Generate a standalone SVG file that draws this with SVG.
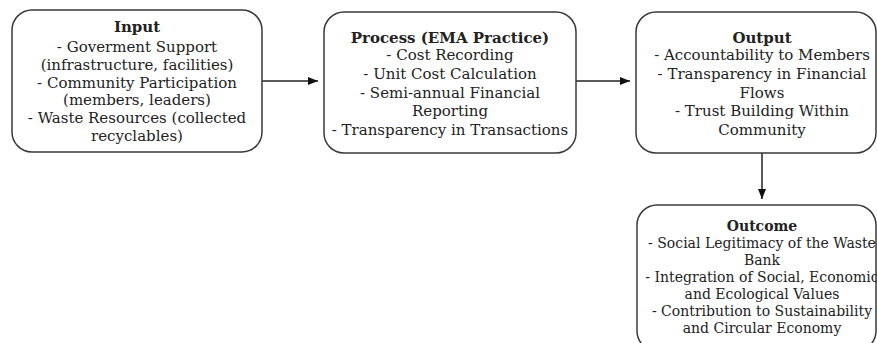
<svg xmlns="http://www.w3.org/2000/svg" width="877" height="343" viewBox="0 0 877 343">
<defs>
<style>
.box{fill:#fff;stroke:#3a3a3a;stroke-width:1.5}
.t{font-family:"DejaVu Serif","Liberation Serif",serif;font-size:15px;fill:#222;text-anchor:middle}
.s{font-size:14px}
.b{font-weight:bold}
.c{stroke:#222;stroke-width:1.5;fill:none}
</style>
<marker id="ah" markerWidth="10" markerHeight="8" refX="10" refY="4" orient="auto" markerUnits="userSpaceOnUse">
<path d="M0,0 L10,4 L0,8 Z" fill="#111"/>
</marker>
</defs>
<rect width="877" height="343" fill="#fff"/>
<g id="connectors">
<line class="c" x1="262" y1="81" x2="318" y2="81" marker-end="url(#ah)"/>
<line class="c" x1="576" y1="81" x2="630" y2="81" marker-end="url(#ah)"/>
<line class="c" x1="762" y1="153" x2="762" y2="199" marker-end="url(#ah)"/>
</g>
<g id="input">
<rect class="box" x="12" y="10" width="250" height="142" rx="20"/>
<text class="t"><tspan class="b" x="137" y="32">Input</tspan><tspan x="137" y="52">- Goverment Support</tspan><tspan x="137" y="70">(infrastructure, facilities)</tspan><tspan x="137" y="88">- Community Participation</tspan><tspan x="137" y="105">(members, leaders)</tspan><tspan x="137" y="123">- Waste Resources (collected</tspan><tspan x="137" y="141">recyclables)</tspan></text>
</g>
<g id="process">
<rect class="box" x="324" y="12" width="252" height="141" rx="20"/>
<text class="t"><tspan class="b" x="450" y="43">Process (EMA Practice)</tspan><tspan x="450" y="60">- Cost Recording</tspan><tspan x="450" y="79">- Unit Cost Calculation</tspan><tspan x="450" y="98">- Semi-annual Financial</tspan><tspan x="450" y="116">Reporting</tspan><tspan x="450" y="135">- Transparency in Transactions</tspan></text>
</g>
<g id="output">
<rect class="box" x="636" y="12" width="240" height="141" rx="20"/>
<text class="t"><tspan class="b" x="762" y="43">Output</tspan><tspan x="762" y="60">- Accountability to Members</tspan><tspan x="762" y="79">- Transparency in Financial</tspan><tspan x="762" y="98">Flows</tspan><tspan x="762" y="116">- Trust Building Within</tspan><tspan x="762" y="135">Community</tspan></text>
</g>
<g id="outcome">
<rect class="box" x="637" y="205" width="239" height="146" rx="20"/>
<text class="t s"><tspan class="b" x="762" y="231">Outcome</tspan><tspan x="762" y="248">- Social Legitimacy of the Waste</tspan><tspan x="762" y="265">Bank</tspan><tspan x="762" y="282">- Integration of Social, Economic</tspan><tspan x="762" y="299">and Ecological Values</tspan><tspan x="762" y="316">- Contribution to Sustainability</tspan><tspan x="762" y="333">and Circular Economy</tspan></text>
</g>
</svg>
